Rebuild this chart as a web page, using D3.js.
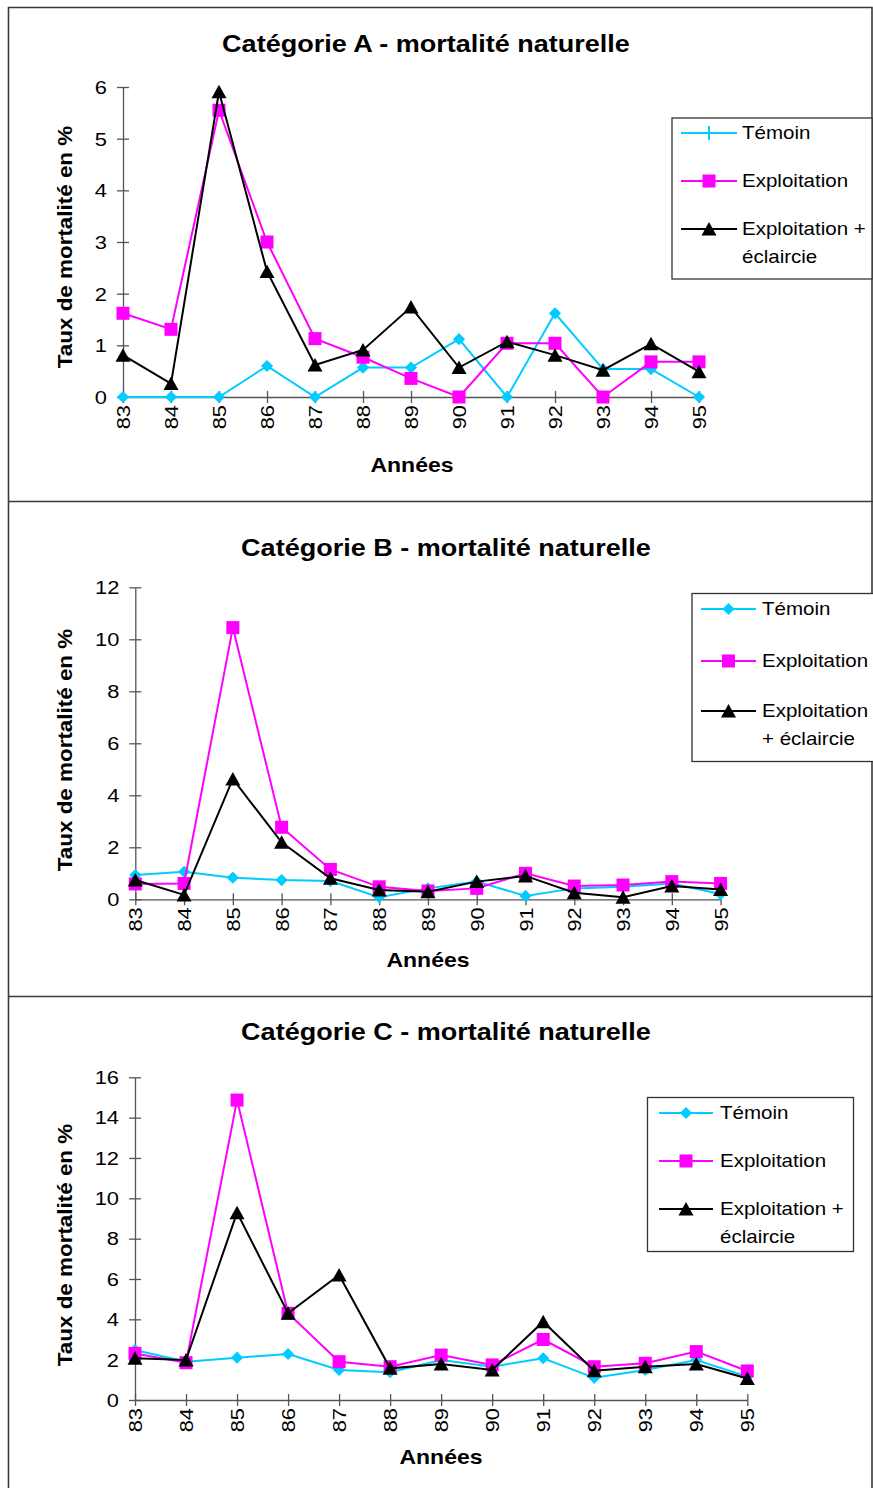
<!DOCTYPE html>
<html>
<head>
<meta charset="utf-8">
<script src="https://cdn.jsdelivr.net/npm/d3@7"></script>
<style>
  html, body { margin: 0; padding: 0; background: #fff; }
  svg { display: block; font-family: "Liberation Sans", Arial, sans-serif; }
</style>
</head>
<body>
<svg id="chart" width="873" height="1488"></svg>
<script>
// Years of observation (category axis)
const years = ["83", "84", "85", "86", "87", "88", "89", "90", "91", "92", "93", "94", "95"];
const seriesNames = ["Témoin", "Exploitation", "Exploitation + éclaircie"];

// Catégorie A – taux de mortalité naturelle (%)
const temoinA    = [0, 0, 0, 0.6, 0, 0.57, 0.57, 1.12, 0, 1.62, 0.54, 0.54, 0];
const exploitA   = [1.62, 1.31, 5.55, 3.0, 1.13, 0.77, 0.36, 0, 1.04, 1.04, 0, 0.68, 0.68];
const eclaircieA = [0.81, 0.26, 5.91, 2.43, 0.62, 0.91, 1.74, 0.57, 1.07, 0.81, 0.52, 1.03, 0.49];
const yTicksA = [0, 1, 2, 3, 4, 5, 6];

// Catégorie B
const temoinB    = [0.93, 1.06, 0.83, 0.74, 0.7, 0.08, 0.42, 0.68, 0.13, 0.42, 0.48, 0.61, 0.2];
const exploitB   = [0.59, 0.61, 10.45, 2.77, 1.15, 0.48, 0.32, 0.42, 1.0, 0.51, 0.55, 0.68, 0.61];
const eclaircieB = [0.74, 0.17, 4.63, 2.19, 0.81, 0.36, 0.29, 0.68, 0.9, 0.25, 0.08, 0.51, 0.38];
const yTicksB = [0, 2, 4, 6, 8, 10, 12];

// Catégorie C
const temoinC    = [2.48, 1.9, 2.1, 2.28, 1.49, 1.38, 1.98, 1.65, 2.07, 1.1, 1.49, 1.98, 1.16];
const exploitC   = [2.31, 1.85, 14.87, 4.3, 1.9, 1.65, 2.23, 1.74, 3.0, 1.65, 1.82, 2.4, 1.44];
const eclaircieC = [2.07, 1.98, 9.29, 4.3, 6.2, 1.57, 1.78, 1.49, 3.88, 1.45, 1.65, 1.78, 1.07];
const yTicksC = [0, 2, 4, 6, 8, 10, 12, 14, 16];

const colors = ["#00ccff", "#ff00ff", "#000000"];
const SX = 1.15; // horizontal glyph stretch of the printed figure

const panels = [
  {
    title: "Catégorie A - mortalité naturelle",
    series: [temoinA, exploitA, eclaircieA], ticks: yTicksA,
    x0: 123, x1: 699, yTop: 87, yBot: 397,
    titleX: 426, titleY: 52, xTitleX: 412, xTitleY: 472, yTitleX: 72, yTitleY: 247,
    legend: { x: 672, y: 118, w: 200, h: 161, lx0: 681, lx1: 737, tx: 742,
              rows: [133, 181, 229], extraY: 257, extra: ["Exploitation +", "éclaircie"], extraX: 742,
              temoinMarker: "plus" }
  },
  {
    title: "Catégorie B - mortalité naturelle",
    series: [temoinB, exploitB, eclaircieB], ticks: yTicksB,
    x0: 135.3, x1: 720.6, yTop: 587.3, yBot: 899.3,
    titleX: 446, titleY: 556, xTitleX: 428, xTitleY: 967, yTitleX: 72, yTitleY: 750,
    legend: { x: 692, y: 593.5, w: 185, h: 168, lx0: 701, lx1: 756, tx: 762,
              rows: [609, 661, 711], extraY: 739, extra: ["Exploitation", "+ éclaircie"], extraX: 762,
              temoinMarker: "diamond" }
  },
  {
    title: "Catégorie C - mortalité naturelle",
    series: [temoinC, exploitC, eclaircieC], ticks: yTicksC,
    x0: 135, x1: 747.3, yTop: 1077.3, yBot: 1400,
    titleX: 446, titleY: 1040, xTitleX: 441, xTitleY: 1464, yTitleX: 72, yTitleY: 1245,
    legend: { x: 647.5, y: 1097.5, w: 206, h: 154, lx0: 659, lx1: 713, tx: 720,
              rows: [1113, 1161, 1209], extraY: 1237, extra: ["Exploitation +", "éclaircie"], extraX: 720,
              temoinMarker: "diamond" }
  }
];

const svg = d3.select("#chart");

// outer frame and separators between the three charts
const frame = svg.append("g").attr("fill", "none").attr("stroke", "#3a3a3a").attr("stroke-width", 1.6);
frame.append("path").attr("d", "M8.5,1488 V7.5 H872 V1488");
frame.append("line").attr("x1", 8.5).attr("x2", 873).attr("y1", 501.5).attr("y2", 501.5);
frame.append("line").attr("x1", 8.5).attr("x2", 873).attr("y1", 996.5).attr("y2", 996.5);

// text placed with a horizontal stretch
function stretchedText(g, str, x, y, opts) {
  const t = g.append("text")
    .attr("transform", `translate(${x},${y})${opts.rotate ? " rotate(-90)" : ""} scale(${opts.sx || SX},1)`)
    .attr("font-size", opts.size)
    .attr("font-weight", opts.bold ? "bold" : null)
    .attr("text-anchor", opts.anchor || "start")
    .attr("fill", "#000")
    .text(str);
  if (opts.dy) t.attr("dy", opts.dy);
  return t;
}

function marker(g, type, x, y, color) {
  if (type === "diamond") {
    g.append("path").attr("d", d3.symbol(d3.symbolDiamond2, 95)()).attr("transform", `translate(${x},${y})`)
      .attr("fill", color);
  } else if (type === "square") {
    g.append("rect").attr("x", x - 6.5).attr("y", y - 6.5).attr("width", 13).attr("height", 13).attr("fill", color);
  } else if (type === "triangle") {
    g.append("path").attr("d", `M${x},${y - 7} L${x + 7.5},${y + 6.5} L${x - 7.5},${y + 6.5} Z`).attr("fill", color);
  } else if (type === "plus") {
    g.append("line").attr("x1", x).attr("x2", x).attr("y1", y - 7).attr("y2", y + 7)
      .attr("stroke", color).attr("stroke-width", 2);
  }
}

const markerTypes = ["diamond", "square", "triangle"];

panels.forEach(p => {
  const g = svg.append("g");
  const x = d3.scalePoint().domain(years).range([p.x0, p.x1]);
  const yMax = p.ticks[p.ticks.length - 1];
  const y = d3.scaleLinear().domain([0, yMax]).range([p.yBot, p.yTop]);

  // title
  stretchedText(g, p.title, p.titleX, p.titleY, { size: 23.5, bold: true, anchor: "middle" });

  // y axis
  const yAxis = g.append("g").attr("transform", `translate(${p.x0},0)`)
    .call(d3.axisLeft(y).tickValues(p.ticks).tickSize(6).tickSizeOuter(0).tickFormat(d3.format("d")));
  yAxis.select(".domain").attr("stroke", "#555").attr("stroke-width", 1.3);
  yAxis.selectAll(".tick line").attr("stroke", "#555").attr("stroke-width", 1.3).attr("x2", -6).attr("x1", 6);
  yAxis.selectAll(".tick text").remove();
  p.ticks.forEach(v => {
    stretchedText(g, String(v), p.x0 - 16, y(v), { size: 19, anchor: "end", dy: "0.36em" });
  });

  // x axis
  const xAxis = g.append("g").attr("transform", `translate(0,${p.yBot})`)
    .call(d3.axisBottom(x).tickSize(6).tickSizeOuter(0));
  xAxis.select(".domain").attr("stroke", "#555").attr("stroke-width", 1.3);
  xAxis.selectAll(".tick line").attr("stroke", "#555").attr("stroke-width", 1.3).attr("y1", -6).attr("y2", 6);
  xAxis.selectAll(".tick text").remove();
  years.forEach(yr => {
    stretchedText(g, yr, x(yr) + 7, p.yBot + 8, { size: 19, anchor: "end", rotate: true });
  });

  // axis titles
  stretchedText(g, "Années", p.xTitleX, p.xTitleY, { size: 20, bold: true, anchor: "middle" });
  stretchedText(g, "Taux de mortalité en %", p.yTitleX, p.yTitleY, { size: 19.5, bold: true, anchor: "middle", rotate: true });

  // series
  const line = d3.line().x((d, i) => x(years[i])).y(d => y(d));
  p.series.forEach((vals, si) => {
    const sg = g.append("g");
    sg.append("path").datum(vals).attr("d", line).attr("fill", "none")
      .attr("stroke", colors[si]).attr("stroke-width", 2).attr("stroke-linejoin", "miter");
    vals.forEach((v, i) => marker(sg, markerTypes[si], x(years[i]), y(v), colors[si]));
  });

  // legend
  const L = p.legend;
  const lg = g.append("g");
  lg.append("rect").attr("x", L.x).attr("y", L.y).attr("width", L.w).attr("height", L.h)
    .attr("fill", "#fff").attr("stroke", "#333").attr("stroke-width", 1.3);
  seriesNames.forEach((name, si) => {
    const ry = L.rows[si];
    lg.append("line").attr("x1", L.lx0).attr("x2", L.lx1).attr("y1", ry).attr("y2", ry)
      .attr("stroke", colors[si]).attr("stroke-width", 2);
    const mt = si === 0 ? L.temoinMarker : markerTypes[si];
    marker(lg, mt, (L.lx0 + L.lx1) / 2, ry, colors[si]);
    const label = si === 2 ? L.extra[0] : name;
    stretchedText(lg, label, L.tx, ry, { size: 18, dy: "0.36em", sx: 1.14 });
  });
  stretchedText(lg, L.extra[1], L.extraX, L.extraY, { size: 18, dy: "0.36em", sx: 1.14 });
});
</script>
</body>
</html>
